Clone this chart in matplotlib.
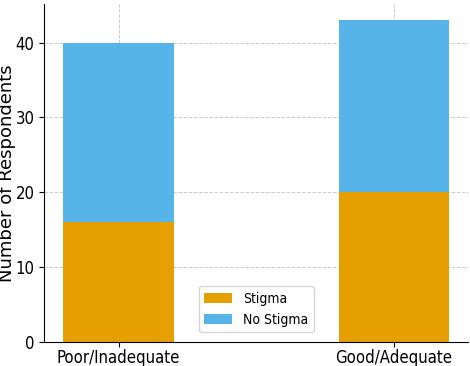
import numpy as np
import matplotlib
matplotlib.use("Agg")
import matplotlib.pyplot as plt

plt.rcParams['font.family'] = ['DejaVu Sans']
plt.rcParams['font.stretch'] = 'condensed'

categories = ["Poor/Inadequate", "Good/Adequate"]
stigma = [16, 20]
no_stigma = [24, 23]

x = np.arange(len(categories))
width = 0.4

fig, ax = plt.subplots(figsize=(4.7, 3.66), dpi=100)
ax.bar(x, stigma, width, color='#E69F00', label='Stigma', zorder=2)
ax.bar(x, no_stigma, width, bottom=stigma, color='#56B4E9', label='No Stigma', zorder=2)

ax.set_ylabel("Number of Respondents", fontsize=13, fontstretch='normal')
ax.yaxis.set_label_coords(-0.067, 0.5)
ax.set_xticks(x)
ax.set_xticklabels(categories, fontsize=12)
ax.tick_params(axis='x', pad=2)
ax.tick_params(axis='y', labelsize=12)
# title sits mostly above the figure edge, as in the source image
ax.set_title("Stigma by Knowledge Rating", fontsize=14, pad=5.5)
ax.grid(True, linestyle='--', color='#cccccc', linewidth=0.7, zorder=0)
ax.spines['top'].set_visible(False)
ax.spines['right'].set_visible(False)
ax.legend(loc='lower center', fontsize=10, borderaxespad=0.7)

fig.subplots_adjust(left=0.094, right=0.996, bottom=0.066, top=0.989)
fig.savefig("out.png", dpi=100)
